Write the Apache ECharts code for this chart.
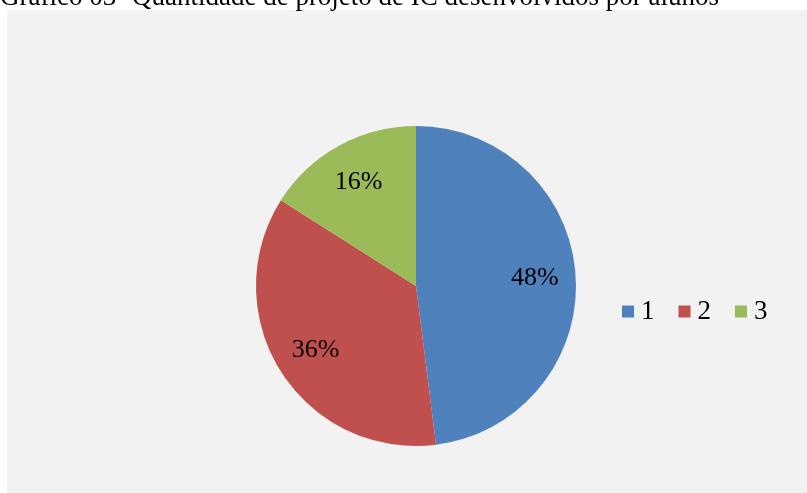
<!DOCTYPE html>
<html>
<head>
<meta charset="utf-8">
<script src="https://cdn.jsdelivr.net/npm/echarts@6/dist/echarts.min.js"></script>
<style>
    html, body { margin: 0; padding: 0; background: #ffffff; }
    #chart { width: 807px; height: 493px; }
</style>
</head>
<body>
<div id="chart"></div>
<script>
var titleText = 'Gráfico 03- Quantidade de projeto de IC desenvolvidos por alunos';
var categories = ['1', '2', '3'];
var values = [48, 36, 16];
var colors = ['#4F81BD', '#C0504D', '#9BBB59'];

var serif = 'Liberation Serif';

var pieData = categories.map(function (c, i) {
    return { name: c, value: values[i], itemStyle: { color: colors[i] } };
});

var labelData = categories.map(function (c, i) {
    return { name: c, value: values[i] };
});

var myChart = echarts.init(document.getElementById('chart'));

var option = {
    backgroundColor: '#ffffff',
    animation: false,
    graphic: [
        {
            type: 'rect',
            z: -10,
            shape: { x: 7, y: 10, width: 800, height: 483 },
            style: { fill: '#F2F2F2' }
        },
        {
            type: 'text',
            z: 10,
            style: {
                text: titleText,
                x: 0,
                y: 11,
                verticalAlign: 'bottom',
                font: '27px "Liberation Serif"',
                fill: '#000000'
            }
        }
    ],
    legend: {
        data: categories,
        left: 617,
        top: 293,
        orient: 'horizontal',
        icon: 'rect',
        itemWidth: 12,
        itemHeight: 12,
        itemGap: 24,
        textStyle: {
            fontFamily: serif,
            fontSize: 27,
            color: '#000000',
            padding: [0, 0, 0, 2]
        }
    },
    series: [
        {
            type: 'pie',
            center: [416, 286],
            radius: [0, 160],
            startAngle: 90,
            clockwise: true,
            silent: true,
            label: { show: false },
            labelLine: { show: false },
            data: pieData
        },
        {
            type: 'pie',
            center: [416, 286],
            radius: [72, 160],
            startAngle: 90,
            clockwise: true,
            silent: true,
            itemStyle: { color: 'rgba(0,0,0,0)' },
            label: {
                show: true,
                position: 'inside',
                fontFamily: serif,
                fontSize: 26,
                color: '#000000',
                formatter: function (p) {
                    return Math.round(p.percent) + '%';
                }
            },
            labelLine: { show: false },
            data: labelData
        }
    ]
};

myChart.setOption(option);
</script>
</body>
</html>
